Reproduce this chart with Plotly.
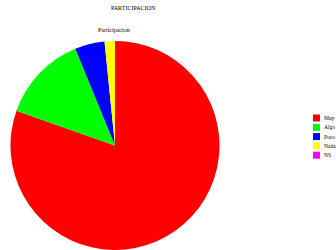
import plotly.graph_objects as go

labels = ["Muy", "Algo", "Poco", "Nada", "NS"]
values = [80.4, 13.4, 4.6, 1.6, 0.0]
colors = ["#FF0000", "#00FF00", "#0000FF", "#FFFF00", "#FF00FF"]

W, H = 336, 250
SERIF = "Liberation Serif, DejaVu Serif, serif"

fig = go.Figure(go.Pie(
    labels=labels, values=values, sort=False, direction="clockwise", rotation=0,
    marker=dict(colors=colors, line=dict(width=0)),
    textinfo="none", hoverinfo="label+value",
    domain=dict(x=[10 / W, 220 / W], y=[0, 209 / H]),
    showlegend=False,
))

def px(x):
    return x / W

def py(y):
    return 1 - y / H

annotations = [
    dict(text="PARTICIPACION", x=px(133), y=py(8), xref="paper", yref="paper",
         showarrow=False, font=dict(family=SERIF, size=6, color="#000"), xanchor="center", yanchor="middle"),
    dict(text="Participacion", x=px(114), y=py(29.5), xref="paper", yref="paper",
         showarrow=False, font=dict(family=SERIF, size=6, color="#000"), xanchor="center", yanchor="middle"),
]
shapes = []
row0, step = 118, 9.3
for i, (lab, col) in enumerate(zip(labels, colors)):
    yc = row0 + i * step
    shapes.append(dict(type="rect", xref="paper", yref="paper",
                       x0=px(313), x1=px(320), y0=py(yc + 3.5), y1=py(yc - 3.5),
                       fillcolor=col, line=dict(width=0)))
    annotations.append(dict(text=lab, x=px(322), y=py(yc), xref="paper", yref="paper",
                            showarrow=False, xanchor="left", yanchor="middle",
                            font=dict(family=SERIF, size=5.5, color="#000")))

fig.update_layout(
    width=W, height=H, margin=dict(l=0, r=0, t=0, b=0),
    paper_bgcolor="white", plot_bgcolor="white",
    annotations=annotations, shapes=shapes, showlegend=False,
)

fig.write_html("out.html", config={"displayModeBar": False},
               post_script="document.body.style.margin='0';document.body.style.overflow='hidden';")
